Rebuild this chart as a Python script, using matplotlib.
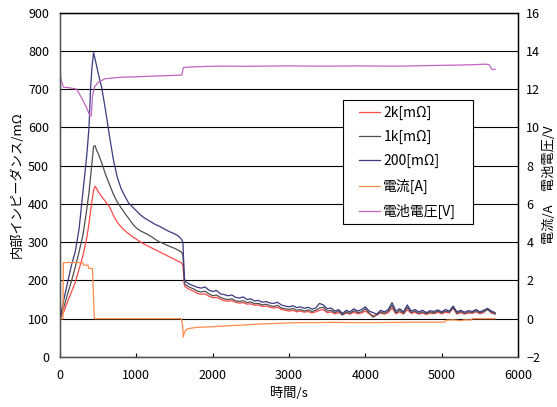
import matplotlib
matplotlib.use("Agg")
import matplotlib.pyplot as plt
from matplotlib.ticker import MultipleLocator
from matplotlib.patches import Rectangle

plt.rcParams['font.family'] = ['Noto Sans CJK JP', 'DejaVu Sans']

# ---- data ----
t_imp = [0, 50, 100, 150, 200, 250, 300, 350, 380, 400, 420, 440, 460, 480, 500,
         550, 600, 650, 700, 750, 800, 850, 900, 950, 1000, 1050, 1100, 1150, 1200,
         1250, 1300, 1350, 1400, 1450, 1500, 1550, 1590, 1610, 1630, 1650,
         1700, 1750, 1800, 1850, 1900, 1950, 2000, 2050, 2100, 2150,
         2200, 2250, 2300, 2350, 2400, 2450, 2500, 2550, 2600, 2650,
         2700, 2750, 2800, 2850, 2900, 2950, 3000, 3050, 3100, 3150,
         3200, 3250, 3300, 3350, 3400, 3450, 3500, 3550, 3600, 3650,
         3700, 3750, 3800, 3850, 3900, 3950, 4000, 4050, 4100, 4150,
         4200, 4250, 4300, 4350, 4400, 4450, 4500, 4550, 4600, 4650,
         4700, 4750, 4800, 4850, 4900, 4950, 5000, 5050, 5100, 5150,
         5200, 5250, 5300, 5350, 5400, 5450, 5500, 5550, 5600, 5650,
         5700]

imp_200 = [100, 150, 195, 240, 275, 335, 430, 525, 600, 700, 760, 795, 778, 760, 742,
           700, 640, 575, 515, 470, 440, 420, 402, 392, 382, 372, 364, 358, 352,
           346, 342, 336, 331, 326, 322, 316, 308, 300, 205, 196,
           190, 186, 182, 180, 183, 175, 171, 174, 165, 163,
           160, 162, 156, 154, 157, 150, 152, 146, 148, 143,
           145, 141, 140, 143, 136, 133, 131, 134, 129, 131,
           127, 130, 125, 128, 140, 136, 126, 128, 120, 124,
           114, 122, 118, 126, 120, 124, 131, 120, 116, 112,
           122, 118, 124, 142, 120, 126, 118, 136, 120, 124,
           118, 122, 116, 121, 119, 123, 118, 124, 120, 133,
           118, 122, 117, 121, 119, 124, 118, 122, 127, 120,
           116]

imp_1k = [102, 130, 165, 198, 235, 275, 318, 385, 430, 470, 510, 550, 552, 540, 532,
          505, 475, 450, 425, 405, 390, 375, 362, 348, 337, 330, 325, 320, 314,
          307, 301, 297, 292, 288, 284, 279, 274, 268, 192, 188,
          182, 178, 172, 170, 172, 165, 160, 162, 156, 152,
          150, 152, 147, 145, 147, 142, 144, 139, 140, 136,
          138, 134, 132, 135, 128, 126, 124, 127, 122, 124,
          120, 123, 119, 122, 128, 130, 120, 122, 116, 120,
          110, 118, 114, 121, 116, 118, 126, 115, 104, 110,
          118, 114, 120, 135, 115, 122, 114, 130, 116, 120,
          114, 118, 113, 118, 115, 120, 115, 120, 117, 130,
          114, 119, 114, 118, 116, 121, 115, 119, 124, 117,
          113]

imp_2k = [100, 118, 145, 170, 195, 230, 265, 310, 350, 380, 410, 435, 446, 440, 432,
          418, 405, 392, 370, 352, 340, 330, 322, 314, 308, 301, 295, 290, 285,
          280, 275, 270, 265, 260, 255, 250, 246, 240, 186, 182,
          176, 172, 166, 164, 165, 159, 155, 156, 151, 147,
          146, 147, 143, 141, 142, 138, 139, 135, 136, 132,
          133, 130, 128, 130, 124, 122, 120, 122, 118, 120,
          117, 119, 115, 118, 122, 124, 116, 118, 113, 116,
          110, 115, 112, 117, 113, 115, 120, 113, 108, 110,
          115, 112, 116, 128, 113, 118, 112, 124, 114, 117,
          112, 115, 111, 115, 113, 117, 113, 117, 115, 128,
          112, 116, 112, 115, 114, 118, 113, 116, 126, 115,
          112]

t_cur = [0, 38, 44, 100, 200, 300, 310, 365, 375, 424, 450, 1590, 1605, 1616, 1630,
         1660, 1700, 1800, 2000, 2200, 2400, 2600, 2800, 3000, 3200, 3400, 3600,
         3800, 4000, 4200, 4400, 4600, 4800, 5040, 5060, 5150, 5250, 5300, 5390,
         5400, 5700]
current = [0, 0, 2.92, 2.94, 2.94, 2.92, 2.8, 2.8, 2.64, 2.62, 0, 0, -0.3, -0.96, -0.7,
           -0.55, -0.5, -0.45, -0.42, -0.37, -0.33, -0.28, -0.25, -0.22, -0.2, -0.2, -0.19,
           -0.2, -0.2, -0.2, -0.19, -0.18, -0.18, -0.18, -0.08, -0.06, -0.1, -0.06, -0.07,
           0, 0]

t_volt = [0, 20, 44, 100, 218, 260, 300, 340, 371, 393, 410, 424, 450, 502, 590, 700,
          808, 1000, 1245, 1400, 1594, 1605, 1616, 1700, 1900, 2118, 2400, 2700, 3000,
          3300, 3600, 3900, 4200, 4500, 4738, 5000, 5175, 5400, 5570, 5620, 5660, 5700]
voltage = [12.8, 12.4, 12.1, 12.08, 12.0, 11.7, 11.4, 11.1, 10.8, 10.58, 10.6, 11.58,
           12.1, 12.36, 12.54, 12.58, 12.62, 12.64, 12.68, 12.7, 12.73, 12.9, 13.12,
           13.15, 13.18, 13.2, 13.19, 13.2, 13.21, 13.2, 13.2, 13.21, 13.2, 13.2, 13.22,
           13.24, 13.25, 13.27, 13.3, 13.28, 13.02, 13.03]

labels = ['2k[mΩ]', '1k[mΩ]', '200[mΩ]', '電流[A]', '電池電圧[V]']
colors = ['#ff4a4a', '#505050', '#3a3a80', '#ff8a4a', '#c064c0']

# ---- figure ----
W, H = 557, 407
AX_L, AX_R, AX_T, AX_B = 60, 518, 12.5, 357
fig = plt.figure(figsize=(W/100, H/100), dpi=100)
ax = fig.add_axes([AX_L/W, 1-AX_B/H, (AX_R-AX_L)/W, (AX_B-AX_T)/H])
ax2 = ax.twinx()

def afx(x):
    return (x-AX_L)/(AX_R-AX_L)

def afy(y):
    return (AX_B-y)/(AX_B-AX_T)

ax.set_xlim(0, 6000)
ax.set_ylim(0, 900)
ax2.set_ylim(-2, 16)

ax.yaxis.set_major_locator(MultipleLocator(100))
ax.xaxis.set_major_locator(MultipleLocator(1000))
ax2.yaxis.set_major_locator(MultipleLocator(2))
ax.grid(axis='y', color='black', linewidth=0.8)
ax.set_axisbelow(True)

l1, = ax.plot(t_imp, imp_2k, color=colors[0], lw=0.9, label=labels[0])
l2, = ax.plot(t_imp, imp_1k, color=colors[1], lw=0.9, label=labels[1])
l3, = ax.plot(t_imp, imp_200, color=colors[2], lw=0.9, label=labels[2])
l4, = ax2.plot(t_cur, current, color=colors[3], lw=0.9, label=labels[3])
l5, = ax2.plot(t_volt, voltage, color=colors[4], lw=0.9, label=labels[4])

for a in (ax, ax2):
    for s in a.spines.values():
        s.set_color('black')
        s.set_linewidth(0.9)
ax2.spines['left'].set_color('#555555')
ax2.spines['bottom'].set_color('#555555')

fs = 9
ax.tick_params(axis='x', direction='in', length=3, labelsize=fs, pad=8.5)
ax.tick_params(axis='y', length=0, labelsize=fs, pad=8)
ax2.tick_params(axis='y', length=0, labelsize=fs, pad=6)

ax.set_xlabel('時間/s', fontsize=9.5, labelpad=4)
ax.set_ylabel('内部インピーダンス/mΩ', fontsize=9.5, labelpad=3)
ax2.set_ylabel('電流/A　電池電圧/V', fontsize=9.5, labelpad=2)

# legend frame and entries
frame = Rectangle((afx(343), afy(224)), afx(473)-afx(343), afy(100)-afy(224),
                  transform=ax2.transAxes, facecolor='white', edgecolor='black',
                  linewidth=0.8, zorder=4.5)
ax2.add_patch(frame)
leg = ax2.legend(handles=[l1, l2, l3, l4, l5], loc='upper left',
                 bbox_to_anchor=(afx(359), afy(106)),
                 fontsize=10, frameon=False, handlelength=1.5, handletextpad=0.25,
                 labelspacing=0.72, borderpad=0, borderaxespad=0)
leg.set_zorder(5)

fig.savefig('out.png', dpi=100)
